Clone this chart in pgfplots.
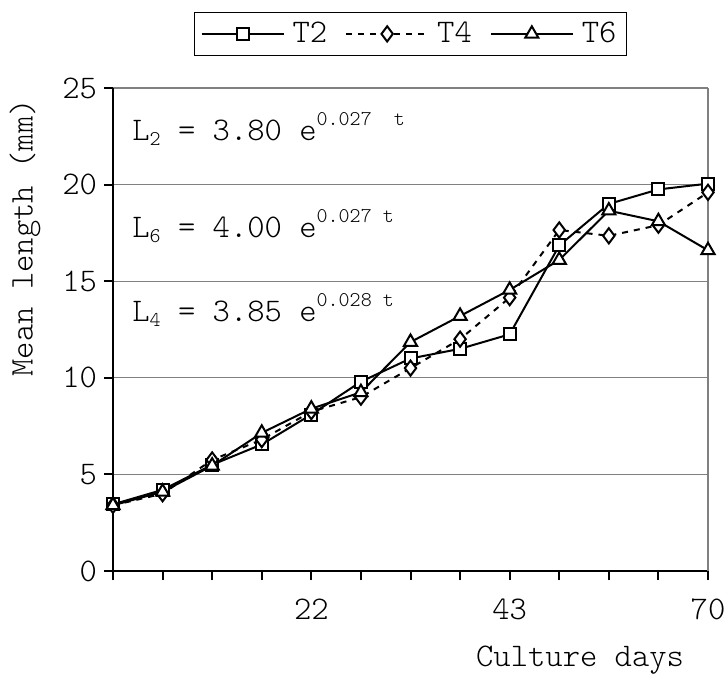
\documentclass[border=0pt]{standalone}
\usepackage{pgfplots}
\pgfplotsset{compat=1.18}
\usepackage{fontspec}
\newfontfamily\lmlight{Latin Modern Mono Light}
\newcommand{\mf}{\lmlight\fontsize{16.5}{19}\selectfont}
\newcommand{\smf}{\lmlight\fontsize{10.5}{12}\selectfont}
\begin{document}
\begin{tikzpicture}
\useasboundingbox (-56.5pt,-52pt) rectangle (307pt,285.5pt);
\begin{axis}[
  at={(0,0)}, anchor=south west, scale only axis,
  width=297.5pt, height=241.5pt,
  xmin=0, xmax=12, ymin=0, ymax=25,
  axis x line*=bottom, axis y line*=left,
  axis line style={line width=1pt, -},
  xtick={0,...,12}, xticklabels={,,,,22,,,,43,,,,70},
  ytick={0,5,...,25},
  tick align=outside, major tick length=4.5pt,
  tick style={line width=1pt, black},
  ymajorgrids, grid style={gray, line width=0.6pt},
  /pgf/number format/assume math mode=true,
  tick label style={font=\mf},
  xticklabel style={yshift=-6pt},
  xlabel={Culture days}, ylabel={Mean length (mm)},
  every axis x label/.style={at={(axis description cs:0.785,-0.184)}, anchor=center, font=\mf},
  every axis y label/.style={at={(axis description cs:-0.148,0.69)}, rotate=90, anchor=center, font=\mf},
  legend style={at={(axis description cs:0.5,1.112)}, anchor=center, legend columns=-1,
    draw=black, font=\mf, inner xsep=3pt, inner ysep=3pt,
    /tikz/every odd column/.append style={column sep=2pt},
    /tikz/every even column/.append style={column sep=7pt}},
  legend image code/.code={\draw[mark repeat=2,mark phase=2] plot coordinates {(0pt,0pt) (20.5pt,0pt) (41pt,0pt)};},
  clip=false,
]
\draw[gray, line width=0.6pt] (rel axis cs:1,0) -- (rel axis cs:1,1);

\addplot[black, line width=1pt, mark=square*, mark size=3pt, mark options={fill=white, solid}]
coordinates {(0,3.45) (1,4.2) (2,5.5) (3,6.55) (4,8.1) (5,9.8) (6,11.0) (7,11.5) (8,12.25) (9,16.85) (10,19.0) (11,19.75) (12,20.05)};
\addlegendentry{T2}

\addplot[black, line width=1pt, dash pattern=on 3pt off 3pt, mark=diamond*, mark size=3.8pt, mark options={fill=white, solid}]
coordinates {(0,3.40) (1,4.0) (2,5.75) (3,6.8) (4,8.25) (5,9.0) (6,10.5) (7,12.0) (8,14.15) (9,17.65) (10,17.35) (11,17.9) (12,19.6)};
\addlegendentry{T4}

\addplot[black, line width=1pt, mark=triangle*, mark size=3.8pt, mark options={fill=white, solid}]
coordinates {(0,3.40) (1,4.1) (2,5.45) (3,7.15) (4,8.4) (5,9.25) (6,11.85) (7,13.2) (8,14.55) (9,16.1) (10,18.65) (11,18.1) (12,16.6)};
\addlegendentry{T6}

\node[anchor=base west, font=\mf, inner sep=0pt] at (axis cs:0.383,22.3) {L\raisebox{-2.5pt}{\smf 2}\ =\ 3.80\ e\raisebox{7.5pt}{\smf 0.027\ \ t}};
\node[anchor=base west, font=\mf, inner sep=0pt] at (axis cs:0.383,17.25) {L\raisebox{-2.5pt}{\smf 6}\ =\ 4.00\ e\raisebox{7.5pt}{\smf 0.027\ t}};
\node[anchor=base west, font=\mf, inner sep=0pt] at (axis cs:0.383,12.9) {L\raisebox{-2.5pt}{\smf 4}\ =\ 3.85\ e\raisebox{7.5pt}{\smf 0.028\ t}};
\end{axis}
\end{tikzpicture}
\end{document}
